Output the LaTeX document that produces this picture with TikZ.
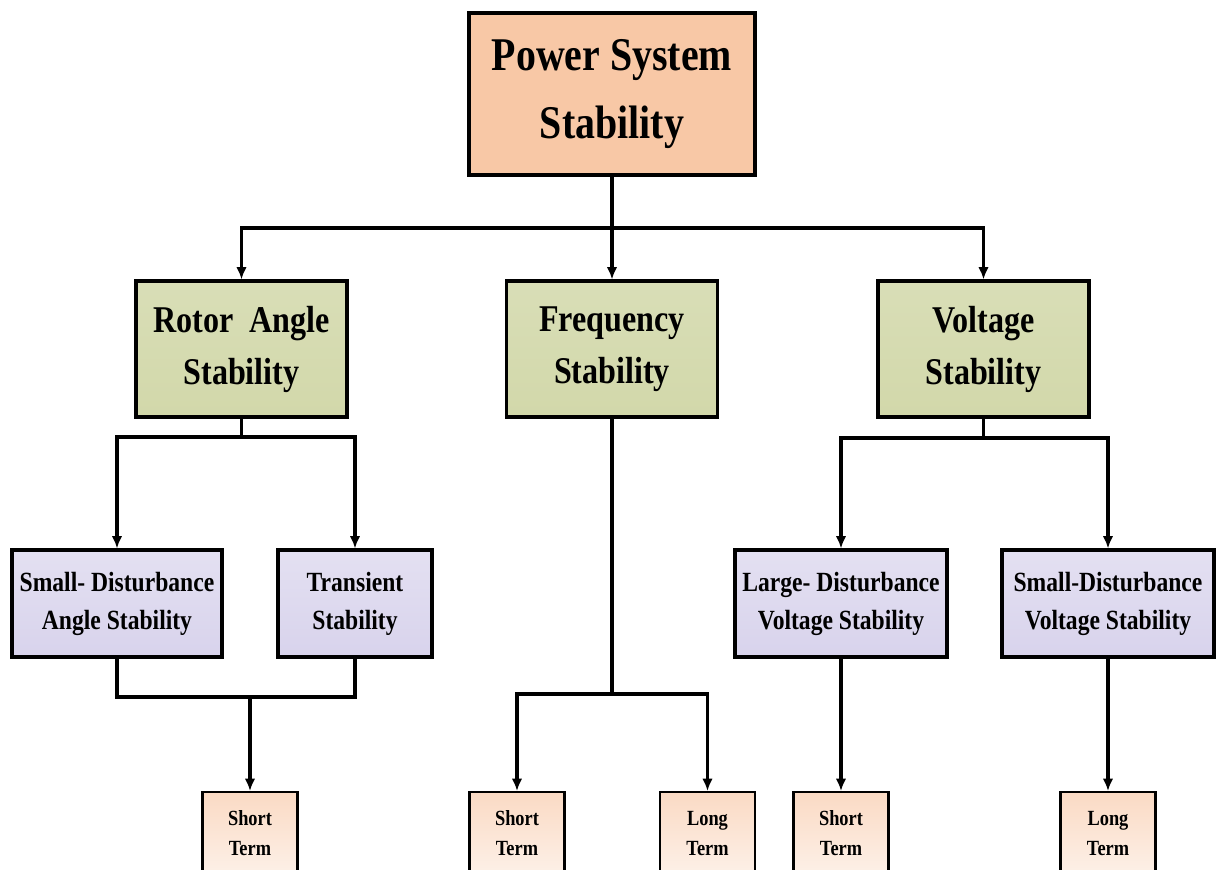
\documentclass[tikz,border=0pt]{standalone}
\usepackage{fontspec}
\usetikzlibrary{arrows.meta}
\setmainfont{Liberation Serif}[FakeStretch=0.85]
\begin{document}
\begin{tikzpicture}[x=0.02cm, y=-0.02cm, >={Latex[length=7pt, width=6pt]}]
    \tikzset{
        box/.style={rectangle, draw=black, line width=1.8pt, inner sep=0pt, align=center, font=\bfseries},
        mainbox/.style={box, top color=pssfill, bottom color=pssfill, minimum width=5.72cm, minimum height=3.24cm, font=\bfseries\fontsize{26.7}{38.7}\selectfont},
        groupbox/.style={box, top color=grpfill!85, bottom color=grpfill, minimum width=4.22cm, minimum height=2.72cm, font=\bfseries\fontsize{21.5}{29.6}\selectfont},
        typebox/.style={box, top color=typfill!70, bottom color=typfill, minimum height=2.14cm, font=\bfseries\fontsize{15.8}{21.6}\selectfont},
        termbox/.style={box, anchor=north, top color=trmfill, bottom color=trmfill!40, minimum width=1.9cm, minimum height=1.64cm, line width=1.3pt, font=\bfseries\fontsize{12.3}{17}\selectfont},
        link/.style={line width=1.8pt}
    }
    \definecolor{pssfill}{RGB}{248,200,166}
    \definecolor{grpfill}{RGB}{210,216,170}
    \definecolor{typfill}{RGB}{216,211,236}
    \definecolor{trmfill}{RGB}{250,218,196}
    \clip (0,0) rectangle (1217,869);
    \fill[white] (0,0) rectangle (1217,869);
    % top level
    \node[mainbox] (pss) at (612,94) {Power System\\Stability};
    % second level
    \node[groupbox] (rotor) at (241.5,349) {Rotor~ Angle\\Stability};
    \node[groupbox] (freq)  at (612,349) {Frequency\\Stability};
    \node[groupbox] (volt)  at (983.5,349) {Voltage\\Stability};
    % third level
    \node[typebox, minimum width=4.2cm]  (sdas) at (117,603.5) {Small- Disturbance\\Angle Stability};
    \node[typebox, minimum width=3.08cm] (trans) at (355,603.5) {Transient\\Stability};
    \node[typebox, minimum width=4.24cm] (ldvs) at (841,603.5) {Large- Disturbance\\Voltage Stability};
    \node[typebox, minimum width=4.24cm] (sdvs) at (1108,603.5) {Small-Disturbance\\Voltage Stability};
    % time frames
    \node[termbox] (st1) at (250,791) {Short\\Term};
    \node[termbox] (st2) at (517,791) {Short\\Term};
    \node[termbox] (lt1) at (707.5,791) {Long\\Term};
    \node[termbox] (st3) at (841,791) {Short\\Term};
    \node[termbox] (lt2) at (1108,791) {Long\\Term};
    % joints
    \coordinate (bus) at (612,228);
    \coordinate (rb) at (241.5,437);
    \coordinate (vb) at (983.5,438);
    \coordinate (fb) at (612,694);
    \coordinate (ab) at (250,697);
    % connectors
    \draw[link] (pss.south) -- (bus);
    \draw[link, ->] (bus) -| (rotor.north);
    \draw[link, ->] (bus) -- (freq.north);
    \draw[link, ->] (bus) -| (volt.north);
    \draw[link] (rotor.south) -- (rb);
    \draw[link, ->] (rb) -| (sdas.north);
    \draw[link, ->] (rb) -| (trans.north);
    \draw[link] (volt.south) -- (vb);
    \draw[link, ->] (vb) -| (ldvs.north);
    \draw[link, ->] (vb) -| (sdvs.north);
    \draw[link] (sdas.south) |- (ab) -| (trans.south);
    \draw[link, ->] (ab) -- (st1.north);
    \draw[link] (freq.south) -- (fb);
    \draw[link, ->] (fb) -| (st2.north);
    \draw[link, ->] (fb) -| (lt1.north);
    \draw[link, ->] (ldvs.south) -- (st3.north);
    \draw[link, ->] (sdvs.south) -- (lt2.north);
\end{tikzpicture}
\end{document}
